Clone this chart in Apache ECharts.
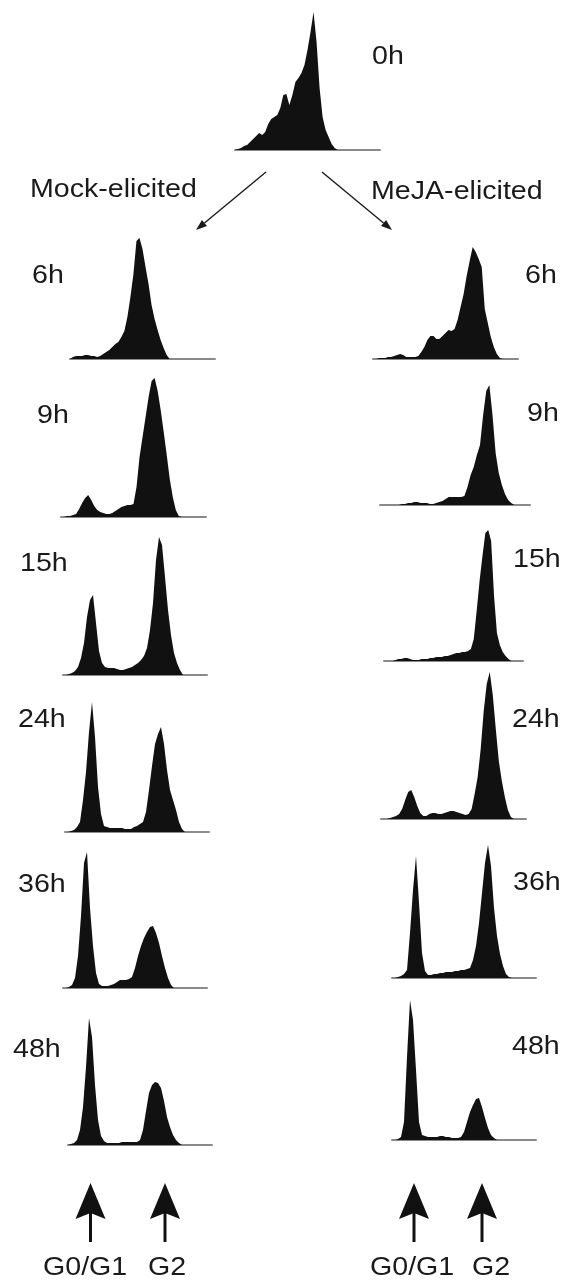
<!DOCTYPE html>
<html>
<head>
<meta charset="utf-8">
<script src="https://cdn.jsdelivr.net/npm/echarts@6/dist/echarts.min.js"></script>
<style>
  html, body { margin: 0; padding: 0; background: #fff; }
  #chart { width: 564px; height: 1281px; }
</style>
</head>
<body>
<div id="chart"></div>
<script>
// DNA content channels shared by every histogram
const channels = [0,1,2,3,4,5,6,7,8,9,10,11,12,13,14,15,16,17,18,19,20,21,22,23,24,
  25,26,27,28,29,30,31,32,33,34,35,36,37,38,39,40,41,42,43,44,45,46,47,48];

// cell counts per channel (trailing zeros left out)
const h0      = [0,1,2,4,5,8,11,14,17,15,18,26,31,33,35,42,55,56,45,55,68,72,77,85,100,118,138,108,62,33,20,13,6,2,0];

const mock6h  = [0,2,3,3,3,4,4,3,3,2,3,5,7,9,12,15,17,22,28,42,62,85,118,121,110,92,75,54,40,29,19,11,4,0];
const mock9h  = [0,0,1,1,2,3,8,14,19,22,17,11,7,5,4,3,3,4,6,8,10,11,12,12,13,30,60,80,100,120,136,139,126,107,85,62,38,20,7,1,0];
const mock15h = [0,0,1,2,4,8,17,32,58,75,80,52,24,12,8,7,7,7,6,5,5,6,7,8,10,12,15,19,27,45,72,115,138,130,98,65,40,22,12,5,0];
const mock24h = [0,0,1,2,5,10,32,60,100,130,95,45,18,6,5,4,4,4,4,4,3,3,3,5,6,8,10,20,42,66,88,98,105,88,62,42,32,22,10,3,0];
const mock36h = [0,0,1,3,10,32,72,125,136,80,42,15,4,2,2,2,3,4,6,8,8,8,9,11,20,32,42,50,56,61,62,55,45,32,20,10,3,0];
const mock48h = [0,1,2,5,15,38,78,127,108,60,25,9,4,2,2,2,2,2,3,3,3,3,3,3,5,15,34,52,60,63,62,57,44,28,18,10,5,2,0];

const meja6h  = [0,0,1,1,1,2,2,3,4,5,4,2,2,2,2,3,7,12,19,23,23,20,20,23,26,29,28,30,39,52,65,83,98,112,107,100,92,50,36,22,12,5,1,0];
const meja9h  = [0,0,0,0,0,0,0,1,1,2,2,3,3,2,2,2,1,1,2,3,4,6,8,8,8,8,8,9,18,30,38,50,60,90,114,120,90,52,32,20,11,5,2,0];
const meja15h = [0,0,0,0,1,2,2,3,3,2,1,1,1,2,2,2,3,3,4,4,4,5,5,6,7,8,8,9,9,10,12,22,50,80,105,128,131,120,65,28,16,9,5,2,0];
const meja24h = [0,0,0,1,2,3,5,10,19,27,29,22,13,6,3,3,5,6,6,5,5,6,7,8,8,7,6,5,4,5,10,25,42,70,108,135,147,124,90,58,38,22,9,2,0];
const meja36h = [0,0,1,2,4,8,45,88,122,75,25,7,3,3,4,4,5,5,6,6,6,7,7,8,8,9,10,18,32,55,85,115,133,112,70,42,24,12,4,1,0];
const meja48h = [0,0,1,3,18,83,140,120,70,18,5,4,3,3,3,3,4,4,3,3,2,2,2,3,8,18,28,35,41,42,33,22,12,5,2,0];

const timeLabels = ['6h', '9h', '15h', '24h', '36h', '48h'];
const phaseLabels = ['G0/G1', 'G2'];

const Y_MAX = 150;

// [left, width, baseline y] of each histogram
const panels = [
  { data: h0,      box: [235, 145, 150] },
  { data: mock6h,  box: [70, 145, 359] },
  { data: mock9h,  box: [61, 145, 517] },
  { data: mock15h, box: [63, 144, 675] },
  { data: mock24h, box: [65, 144, 832] },
  { data: mock36h, box: [63, 144, 988] },
  { data: mock48h, box: [68, 144, 1145] },
  { data: meja6h,  box: [373, 145, 359] },
  { data: meja9h,  box: [380, 150, 505] },
  { data: meja15h, box: [384, 139, 661] },
  { data: meja24h, box: [381, 145, 819] },
  { data: meja36h, box: [392, 144, 978] },
  { data: meja48h, box: [392, 144, 1140] },
];

const grid = [], xAxis = [], yAxis = [], series = [];
panels.forEach((p, i) => {
  const [left, width, base] = p.box;
  grid.push({ left, width, top: base - Y_MAX, height: Y_MAX });
  xAxis.push({
    type: 'category', gridIndex: i, data: channels, boundaryGap: false,
    axisLine: { lineStyle: { color: '#8a8a8a', width: 2 } },
    axisTick: { show: false }, axisLabel: { show: false }, splitLine: { show: false },
  });
  yAxis.push({ type: 'value', gridIndex: i, min: 0, max: Y_MAX, show: false });
  series.push({
    type: 'line', xAxisIndex: i, yAxisIndex: i, data: p.data,
    symbol: 'none', silent: true,
    lineStyle: { opacity: 0 },
    areaStyle: { color: '#111', opacity: 1 },
  });
});

const FONT = '26px "Liberation Sans", Arial, sans-serif';
function label(text, x, y) {
  return {
    type: 'text', x, y, scaleX: 1.1, silent: true,
    style: { text, font: FONT, fill: '#1a1a1a', textVerticalAlign: 'middle', verticalAlign: 'middle' },
  };
}
function thinArrow(x1, y1, x2, y2) {
  const dx = x2 - x1, dy = y2 - y1, len = Math.hypot(dx, dy);
  const ux = dx / len, uy = dy / len, hl = 11, hw = 4;
  const bx = x2 - ux * hl, by = y2 - uy * hl;
  return [
    { type: 'line', silent: true, shape: { x1, y1, x2: bx, y2: by }, style: { stroke: '#1a1a1a', lineWidth: 1.4 } },
    { type: 'polygon', silent: true, shape: { points: [[x2, y2], [bx - uy * hw, by + ux * hw], [bx + uy * hw, by - ux * hw]] }, style: { fill: '#1a1a1a' } },
  ];
}
function upArrow(x) {
  return [
    { type: 'rect', silent: true, shape: { x: x - 1.5, y: 1210, width: 3, height: 32 }, style: { fill: '#111' } },
    { type: 'polygon', silent: true, shape: { points: [[x, 1183], [x + 15, 1219], [x, 1213], [x - 15, 1219]] }, style: { fill: '#111' } },
  ];
}

const leftPos  = [[32, 276], [37, 416], [20, 564], [18, 720], [18, 885], [13, 1050]];
const rightPos = [[525, 276], [527, 414], [513, 560], [512, 720], [513, 883], [512, 1047]];

const elements = [
  label('0h', 372, 57),
  label('Mock-elicited', 30, 190),
  label('MeJA-elicited', 371, 192),
  ...timeLabels.map((t, i) => label(t, leftPos[i][0], leftPos[i][1])),
  ...timeLabels.map((t, i) => label(t, rightPos[i][0], rightPos[i][1])),
  label(phaseLabels[0], 43, 1268), label(phaseLabels[1], 148, 1268),
  label(phaseLabels[0], 370, 1268), label(phaseLabels[1], 472, 1268),
  ...thinArrow(266, 172, 196, 230),
  ...thinArrow(322, 172, 392, 230),
  ...upArrow(90.5), ...upArrow(165), ...upArrow(414), ...upArrow(482),
];

const chart = echarts.init(document.getElementById('chart'));
chart.setOption({
  animation: false,
  backgroundColor: '#fff',
  grid, xAxis, yAxis, series,
  graphic: { elements },
});
</script>
</body>
</html>
